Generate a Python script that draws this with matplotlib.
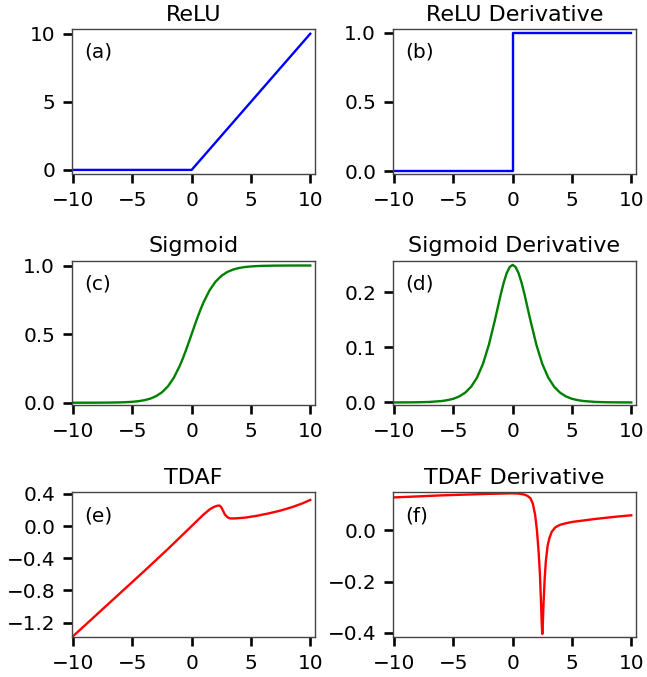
import matplotlib
matplotlib.use('Agg')
import matplotlib.pyplot as plt

# ReLU
x_relu = [-10, 0, 10]
y_relu = [0, 0, 10]
x_relu_d = [-10, 0, 0, 10]
y_relu_d = [0, 0, 1, 1]

# Sigmoid and its derivative
x_sig = [-10, -9, -8, -7, -6, -5.5, -5, -4.5, -4, -3.5, -3, -2.5, -2, -1.5, -1,
         -0.75, -0.5, -0.25, 0, 0.25, 0.5, 0.75, 1, 1.5, 2, 2.5, 3, 3.5, 4,
         4.5, 5, 5.5, 6, 7, 8, 9, 10]
y_sig = [0.0000, 0.0001, 0.0003, 0.0009, 0.0025, 0.0041, 0.0067, 0.0110, 0.0180,
         0.0293, 0.0474, 0.0759, 0.1192, 0.1824, 0.2689, 0.3208, 0.3775, 0.4378,
         0.5000, 0.5622, 0.6225, 0.6792, 0.7311, 0.8176, 0.8808, 0.9241, 0.9526,
         0.9707, 0.9820, 0.9890, 0.9933, 0.9959, 0.9975, 0.9991, 0.9997, 0.9999,
         1.0000]
y_sig_d = [0.0000, 0.0001, 0.0003, 0.0009, 0.0025, 0.0041, 0.0066, 0.0109, 0.0177,
           0.0285, 0.0452, 0.0701, 0.1050, 0.1491, 0.1966, 0.2179, 0.2350, 0.2461,
           0.2500, 0.2461, 0.2350, 0.2179, 0.1966, 0.1491, 0.1050, 0.0701, 0.0452,
           0.0285, 0.0177, 0.0109, 0.0066, 0.0041, 0.0025, 0.0009, 0.0003, 0.0001,
           0.0000]

# TDAF
x_tdaf = [-10, -8, -6, -4, -2, 0, 1, 1.5, 1.8, 2.0, 2.2, 2.35, 2.5, 2.65, 2.8,
          3.0, 3.25, 3.6, 4.5, 5.5, 6.5, 7.5, 8.5, 9.3, 10]
y_tdaf = [-1.37, -1.10, -0.83, -0.56, -0.285, 0.0, 0.143, 0.205, 0.232, 0.245,
          0.254, 0.255, 0.235, 0.19, 0.145, 0.112, 0.095, 0.095, 0.105, 0.128,
          0.158, 0.193, 0.237, 0.280, 0.325]

x_tdaf_d = [-10, -8, -6, -4, -2, -1, 0, 0.5, 1.0, 1.25, 1.5, 1.7, 1.9, 2.05, 2.2,
            2.3, 2.4, 2.45, 2.5, 2.55, 2.6, 2.7, 2.8, 2.95, 3.1, 3.3, 3.6, 4.0,
            4.5, 5, 6, 7, 8, 9, 10]
y_tdaf_d = [0.129, 0.133, 0.137, 0.140, 0.143, 0.144, 0.145, 0.144, 0.140, 0.135,
            0.126, 0.105, 0.06, 0.0, -0.09, -0.17, -0.29, -0.36, -0.405, -0.36,
            -0.29, -0.19, -0.12, -0.06, -0.03, -0.005, 0.012, 0.022, 0.028, 0.033,
            0.039, 0.045, 0.050, 0.055, 0.059]

panels = [
    ('ReLU', '(a)', x_relu, y_relu, 'blue', (-0.29, 10.34), [0, 5, 10]),
    ('ReLU Derivative', '(b)', x_relu_d, y_relu_d, 'blue', (-0.02, 1.025), [0.0, 0.5, 1.0]),
    ('Sigmoid', '(c)', x_sig, y_sig, 'green', (-0.02, 1.035), [0.0, 0.5, 1.0]),
    ('Sigmoid Derivative', '(d)', x_sig, y_sig_d, 'green', (-0.0055, 0.2576), [0.0, 0.1, 0.2]),
    ('TDAF', '(e)', x_tdaf, y_tdaf, 'red', (-1.38, 0.42), [0.4, 0.0, -0.4, -0.8, -1.2]),
    ('TDAF Derivative', '(f)', x_tdaf_d, y_tdaf_d, 'red', (-0.417, 0.149), [0.0, -0.2, -0.4]),
]

fig, axs = plt.subplots(nrows=3, ncols=2, figsize=(6.47, 6.77), dpi=100)
fig.subplots_adjust(left=0.111, right=0.983, bottom=0.059, top=0.957,
                    wspace=0.32, hspace=0.6)

for ax, (title, tag, xs, ys, color, ylim, yticks) in zip(axs.flat, panels):
    ax.plot(xs, ys, color=color, linewidth=1.7)
    ax.set_title(title, fontsize=16, pad=6)
    ax.text(0.05, 0.905, tag, transform=ax.transAxes, fontsize=14.5, va='top')
    ax.set_xlim(-10.1, 10.4)
    ax.set_ylim(*ylim)
    ax.set_xticks([-10, -5, 0, 5, 10])
    ax.set_yticks(yticks)
    ax.tick_params(labelsize=14.4, length=6.5, width=1.9, pad=5.5, color='black')
    for sp in ax.spines.values():
        sp.set_linewidth(1.0)
        sp.set_color('#444444')

fig.savefig('out.png', dpi=100)
